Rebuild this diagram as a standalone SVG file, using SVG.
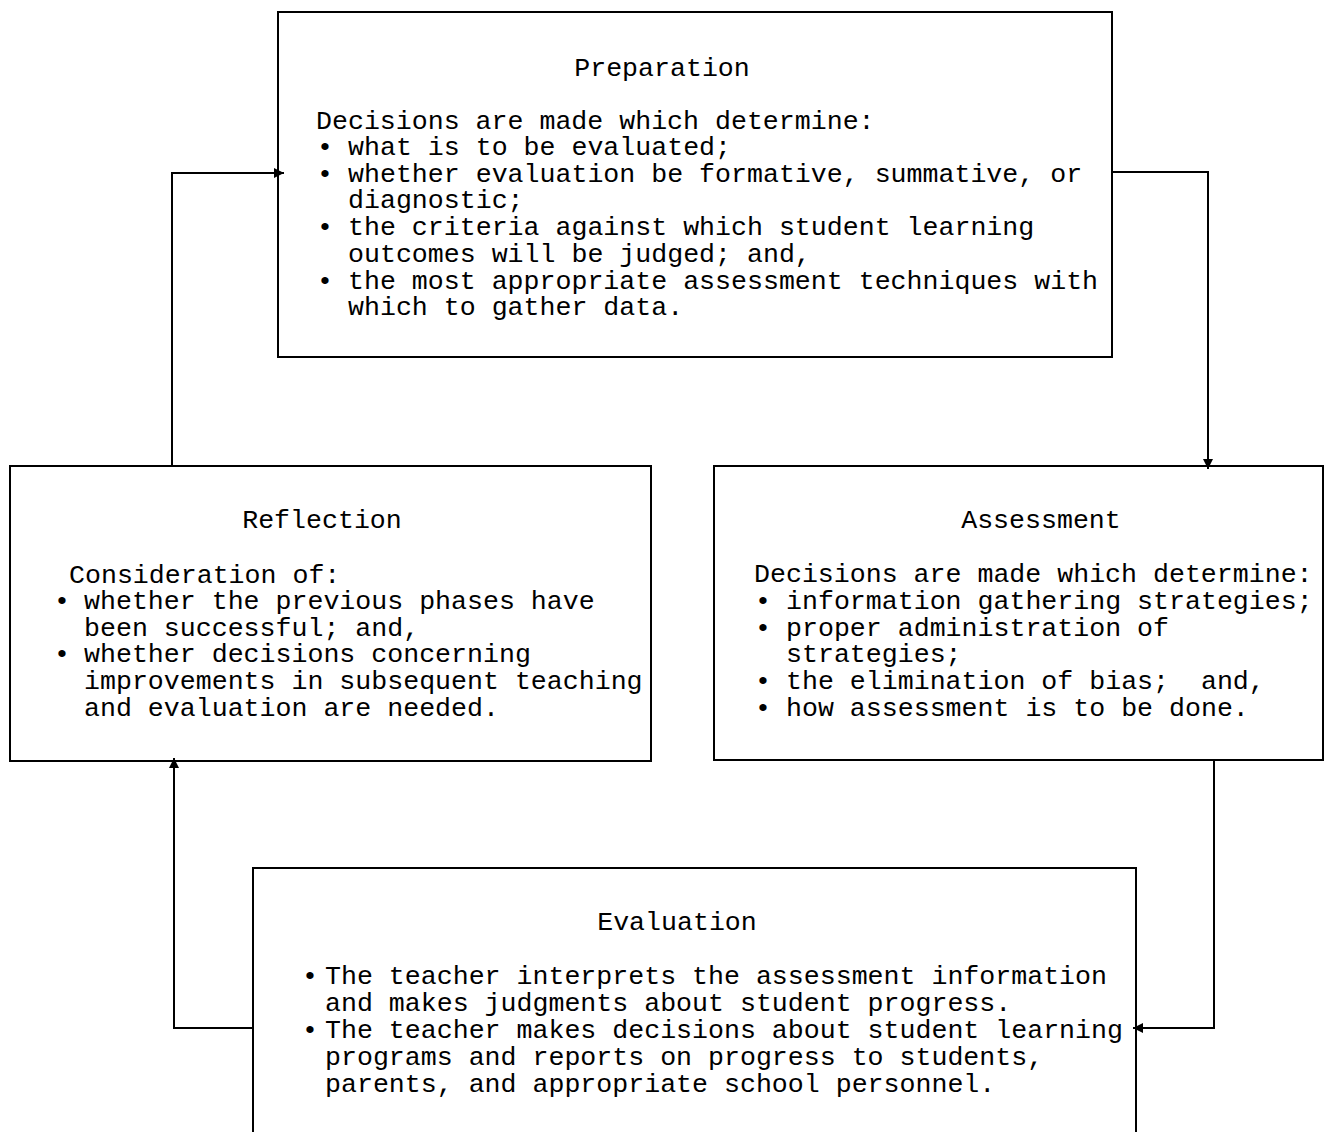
<svg xmlns="http://www.w3.org/2000/svg" width="1324" height="1132" viewBox="0 0 1324 1132">
<style>
.box{fill:#fff;stroke:#000;stroke-width:2}
.t{font-family:"Liberation Mono","Courier New",monospace;font-size:26.6px;fill:#000}
.c{text-anchor:middle}
.con{fill:none;stroke:#000;stroke-width:2}
</style>
<defs>
<marker id="ah" viewBox="0 0 10 10" refX="10" refY="5" markerWidth="5" markerHeight="5" markerUnits="strokeWidth" orient="auto">
<path d="M0,0 L10,5 L0,10 z" fill="#000"/>
</marker>
</defs>
<rect width="1324" height="1132" fill="#fff"/>
<g id="connectors">
<path class="con" d="M172,466 V173 H284" marker-end="url(#ah)"/>
<path class="con" d="M1112,172 H1208 V469" marker-end="url(#ah)"/>
<path class="con" d="M1214,761 V1028 H1133" marker-end="url(#ah)"/>
<path class="con" d="M253,1028 H174 V758" marker-end="url(#ah)"/>
</g>
<g id="preparation">
<rect class="box" x="278" y="12" width="834" height="345" fill="none" style="fill:none"/>
<text class="t c" x="662" y="76">Preparation</text>
<text class="t" x="316" y="129">Decisions are made which determine:</text>
<text class="t c" x="325" y="155">•</text>
<text class="t c" x="325" y="182">•</text>
<text class="t c" x="325" y="235">•</text>
<text class="t c" x="325" y="289">•</text>
<text class="t" x="348" y="155">what is to be evaluated;</text>
<text class="t" x="348" y="182">whether evaluation be formative, summative, or</text>
<text class="t" x="348" y="208">diagnostic;</text>
<text class="t" x="348" y="235">the criteria against which student learning</text>
<text class="t" x="348" y="262">outcomes will be judged; and,</text>
<text class="t" x="348" y="289">the most appropriate assessment techniques with</text>
<text class="t" x="348" y="315">which to gather data.</text>
</g>
<g id="reflection">
<rect class="box" x="10" y="466" width="641" height="295" style="fill:none"/>
<text class="t c" x="322" y="528">Reflection</text>
<text class="t" x="69" y="583">Consideration of:</text>
<text class="t c" x="62" y="609">•</text>
<text class="t c" x="62" y="662">•</text>
<text class="t" x="84" y="609">whether the previous phases have</text>
<text class="t" x="84" y="636">been successful; and,</text>
<text class="t" x="84" y="662">whether decisions concerning</text>
<text class="t" x="84" y="689">improvements in subsequent teaching</text>
<text class="t" x="84" y="716">and evaluation are needed.</text>
</g>
<g id="assessment">
<rect class="box" x="714" y="466" width="609" height="294" style="fill:none"/>
<text class="t c" x="1041" y="528">Assessment</text>
<text class="t" x="754" y="582">Decisions are made which determine:</text>
<text class="t c" x="763" y="609">•</text>
<text class="t c" x="763" y="636">•</text>
<text class="t c" x="763" y="689">•</text>
<text class="t c" x="763" y="716">•</text>
<text class="t" x="786" y="609">information gathering strategies;</text>
<text class="t" x="786" y="636">proper administration of</text>
<text class="t" x="786" y="662">strategies;</text>
<text class="t" x="786" y="689" xml:space="preserve">the elimination of bias;  and,</text>
<text class="t" x="786" y="716">how assessment is to be done.</text>
</g>
<g id="evaluation">
<path class="box" d="M253,1134 V868 H1136 V1134" style="fill:none"/>
<text class="t c" x="677" y="930">Evaluation</text>
<text class="t c" x="310" y="984">•</text>
<text class="t c" x="310" y="1038">•</text>
<text class="t" x="325" y="984">The teacher interprets the assessment information</text>
<text class="t" x="325" y="1011">and makes judgments about student progress.</text>
<text class="t" x="325" y="1038">The teacher makes decisions about student learning</text>
<text class="t" x="325" y="1065">programs and reports on progress to students,</text>
<text class="t" x="325" y="1092">parents, and appropriate school personnel.</text>
</g>
</svg>
